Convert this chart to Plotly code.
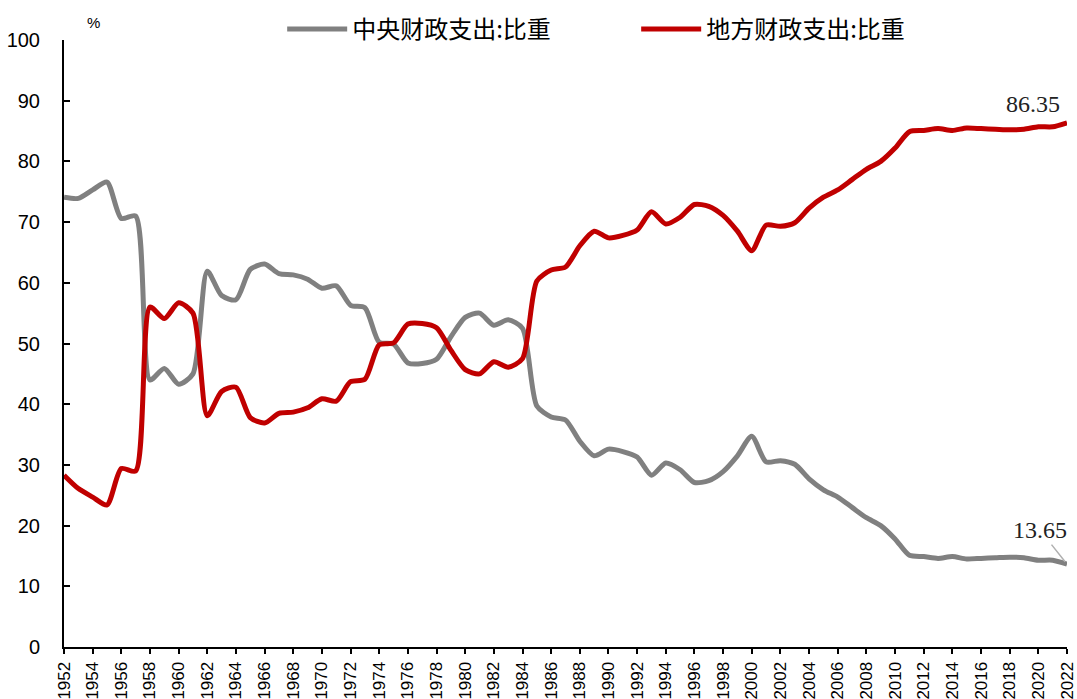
import plotly.graph_objects as go

years = list(range(1952, 2023))
central = [74.1, 73.9, 75.3, 76.6, 70.6, 71.0, 44.0, 45.9, 43.3, 45.0,
           61.9, 57.9, 57.2, 62.2, 63.1, 61.5, 61.3, 60.6, 59.1, 59.5,
           56.3, 55.9, 50.2, 49.9, 46.8, 46.7, 47.4, 51.1, 54.3, 55.0,
           53.0, 53.9, 52.5, 39.7, 37.9, 37.4, 33.9, 31.5, 32.6, 32.2,
           31.3, 28.3, 30.3, 29.2, 27.1, 27.4, 28.9, 31.5, 34.7, 30.5,
           30.7, 30.1, 27.7, 25.9, 24.7, 23.0, 21.3, 20.0, 17.8, 15.1,
           14.9, 14.6, 14.9, 14.5, 14.6, 14.7, 14.8, 14.7, 14.3, 14.3,
           13.65]
local = [28.3, 26.1, 24.7, 23.4, 29.4, 29.0, 56.0, 54.1, 56.7, 55.0,
         38.1, 42.1, 42.8, 37.8, 36.9, 38.5, 38.7, 39.4, 40.9, 40.5,
         43.7, 44.1, 49.8, 50.1, 53.2, 53.3, 52.6, 48.9, 45.7, 45.0,
         47.0, 46.1, 47.5, 60.3, 62.1, 62.6, 66.1, 68.5, 67.4, 67.8,
         68.7, 71.7, 69.7, 70.8, 72.9, 72.6, 71.1, 68.5, 65.3, 69.5,
         69.3, 69.9, 72.3, 74.1, 75.3, 77.0, 78.7, 80.0, 82.2, 84.9,
         85.1, 85.4, 85.1, 85.5, 85.4, 85.3, 85.2, 85.3, 85.7, 85.7,
         86.35]
names = ["中央财政支出:比重", "地方财政支出:比重"]
colors = ["#808080", "#C00000"]
tick_years = list(range(1952, 2023, 2))

fig = go.Figure()
for name, vals, col in zip(names, [central, local], colors):
    fig.add_trace(go.Scatter(x=years, y=vals, name=name, mode="lines",
                             line=dict(color=col, width=5, shape="spline", smoothing=0.7)))

fig.add_annotation(x=years[-1], y=local[-1], text="86.35", showarrow=False,
                   xanchor="right", yanchor="middle", xshift=-5, yshift=19,
                   font=dict(family="Liberation Serif", size=24, color="#222"))
fig.add_annotation(x=years[-1], y=central[-1], text="13.65", showarrow=True,
                   arrowhead=0, arrowwidth=1.5, arrowcolor="#b0b0b0", standoff=3,
                   ax=-27, ay=-34,
                   font=dict(family="Liberation Serif", size=24, color="#222"))
fig.add_annotation(xref="paper", yref="paper", x=0.029, y=1.0, yshift=7,
                   text="%", showarrow=False, xanchor="center", yanchor="bottom",
                   font=dict(family="Liberation Sans", size=15, color="#000"))

fig.update_layout(
    width=1077, height=699,
    margin=dict(l=64, r=10, t=40, b=52, autoexpand=False),
    paper_bgcolor="white", plot_bgcolor="white",
    font=dict(family="Liberation Sans", color="#000"),
    showlegend=True,
    legend=dict(orientation="h", xref="container", yref="container",
                x=0.262, y=0.99, yanchor="top", xanchor="left",
                font=dict(family="Noto Sans CJK SC", size=24, color="#000"),
                itemwidth=60, entrywidth=279, entrywidthmode="pixels",
                bgcolor="rgba(0,0,0,0)"),
    xaxis=dict(range=[1952, 2022], tickvals=tick_years, ticktext=[str(y) for y in tick_years],
               tickangle=-90, showgrid=False, zeroline=False, automargin=False,
               ticklabeloverflow="allow",
               showline=True, linecolor="#000", linewidth=2,
               ticks="outside", ticklen=5, tickwidth=2, tickcolor="#000",
               ticklabelstandoff=1,
               tickfont=dict(family="Liberation Sans", size=17, color="#000")),
    yaxis=dict(range=[0, 100], dtick=10, showgrid=False, zeroline=False, automargin=False,
               showline=True, linecolor="#000", linewidth=2,
               ticks="inside", ticklen=6, tickwidth=2, tickcolor="#000",
               ticklabelstandoff=18,
               tickfont=dict(family="Liberation Sans", size=20, color="#000")),
)
fig.write_html("out.html", config={"displayModeBar": False},
               post_script="document.body.style.margin='0';document.body.style.overflow='hidden';")
